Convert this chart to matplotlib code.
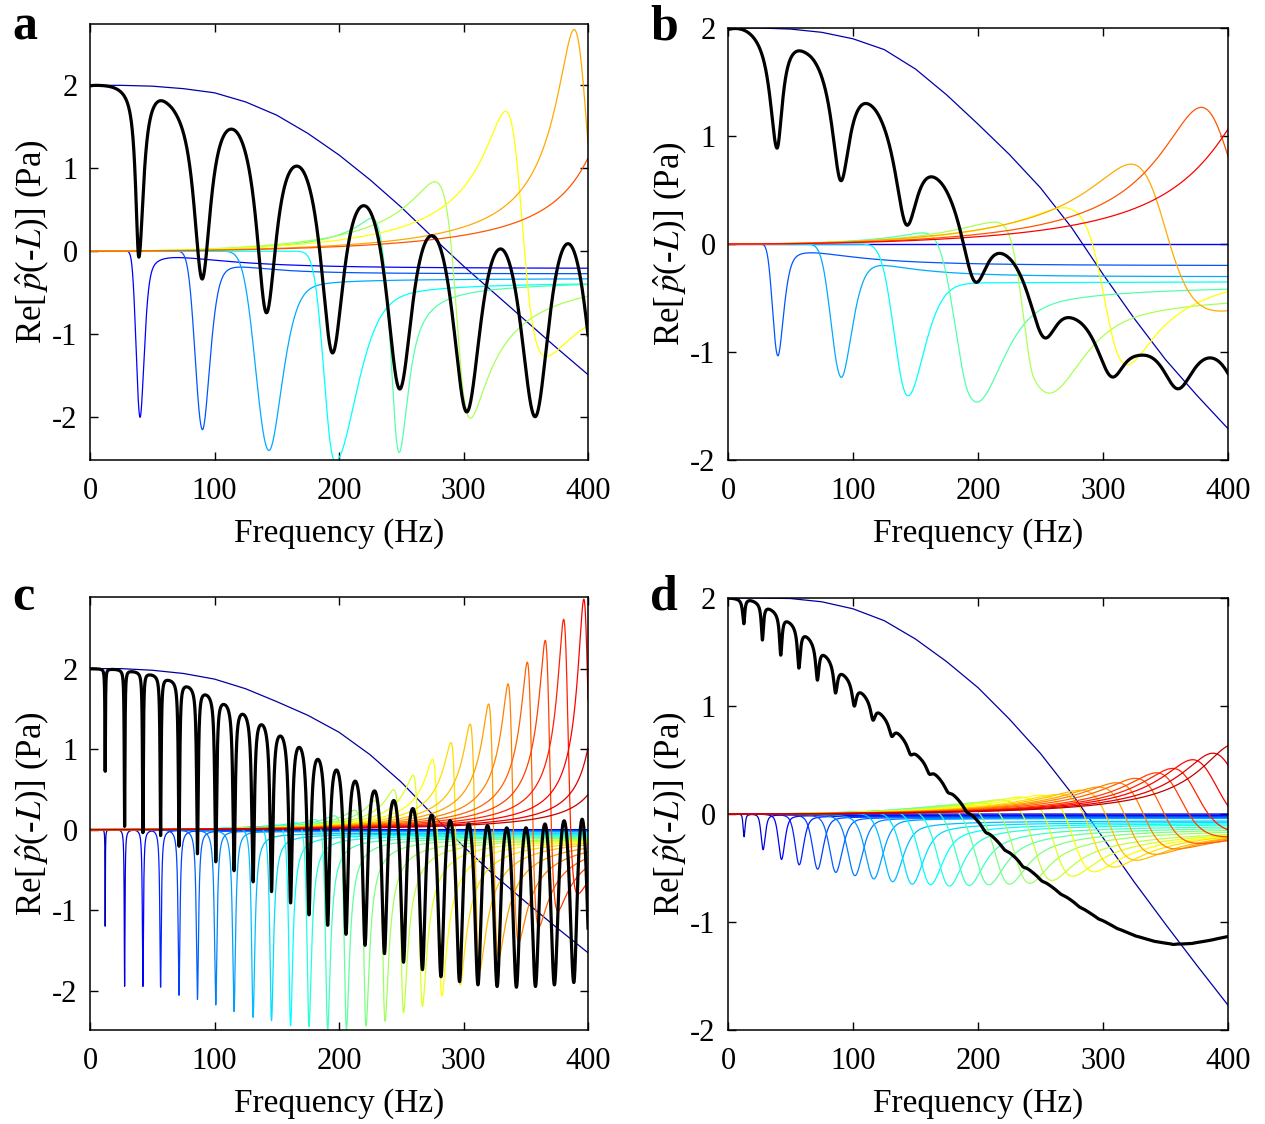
import numpy as np
import matplotlib
matplotlib.use("Agg")
import matplotlib.pyplot as plt

plt.rcParams['font.family'] = ['Liberation Serif', 'DejaVu Serif']
plt.rcParams['mathtext.fontset'] = 'stix'
plt.rcParams['axes.unicode_minus'] = False

FREQ = np.linspace(0.02, 400, 12000)
NAVY_F = [0, 25, 50, 75, 100, 125, 150, 175, 200, 225, 250, 275, 300, 325, 350, 375, 400]

# ---------------- panel a ----------------
A_NAVY = [2.0, 2.0, 1.99, 1.96, 1.91, 1.80, 1.64, 1.42, 1.16, 0.86, 0.53, 0.17, -0.18, -0.51, -0.84, -1.17, -1.49]
A_MODE_TF = [40, 90, 143, 196, 248, 305, 365, 428, 487]
A_MODE_PEAK = [0, 0, 0, 0, 0.27, 0.88, 1.75, 2.72, 3.0]
A_MODE_TROUGH = [-2.0, -2.15, -2.40, -2.52, -2.38, -1.95, -1.20, -0.60, -0.50]
A_MODE_QL = [5.2, 6.4, 5.6, 10, 14.5, 11, 11, 13, 12]
A_MODE_QR = [5.2, 6.4, 5.6, 5, 14.5, 11, 11, 13, 12]
A_MODE_TAIL = [-0.21, -0.27, -0.32, -0.36, -0.23, 0, 0, 0, 0]
A_MODE_SPREAD = [70, 40, 25, 25, 40, 40, 40, 40, 40]
A_BLACK_DIP_F = [-30, 39.2, 90.0, 141.6, 194.6, 248.6, 302.5, 357.5, 410.0]
A_BLACK_DIP_Y = [-0.06, -0.06, -0.33, -0.74, -1.23, -1.67, -1.95, -2.0, -2.0]
A_BLACK_SHARP = [12, 12, 3.5, 2.5, 1.8, 1.3, 1.0, 0.9, 0.9]
A_BLACK_SHARP_LEFT = [50, 50, 3.5, 2.5, 1.8, 1.3, 1.0, 0.9, 0.9]
A_BLACK_PEAK_F = [0, 20, 51.7, 60, 68, 110.5, 120, 169.0, 224.7, 280.3, 335.2, 389.9, 440]
A_BLACK_PEAK_Y = [2.0, 2.0, 1.92, 1.85, 1.65, 1.52, 1.42, 1.01, 0.51, 0.15, 0.01, 0.10, 0.15]

# ---------------- panel b ----------------
B_NAVY = [2.0, 2.0, 1.99, 1.96, 1.90, 1.80, 1.62, 1.38, 1.11, 0.83, 0.52, 0.15, -0.28, -0.69, -1.07, -1.40, -1.71]
B_MODE_TF = [39.5, 90, 143, 196, 251, 318, 388, 472, 538]
B_MODE_PEAK = [0, 0, 0, 0.02, 0.05, 0.36, 0.80, 1.32, 1.55]
B_MODE_TROUGH = [-1.03, -1.23, -1.40, -1.42, -1.30, -1.07, -0.57, -0.30, -0.30]
B_MODE_QL = [3.8, 4.5, 5.5, 6.2, 10.6, 6.6, 5.1, 5.3, 5.5]
B_MODE_QR = [3.8, 4.5, 4.5, 4.0, 4.0, 6.6, 5.1, 5.3, 5.5]
B_MODE_TAIL = [-0.2, -0.3, -0.34, -0.28, -0.30, 0.04, 0.04, 0, 0]
B_MODE_SPREAD = [60, 45, 30, 30, 30, 40, 40, 40, 40]
B_BLACK_DIP_F = [-25, 39.2, 90.2, 142.8, 197.6, 252.7, 307.0, 359.5, 413.0]
B_BLACK_DIP_Y = [0.9, 0.9, 0.59, 0.18, -0.35, -0.87, -1.24, -1.34, -1.45]
B_BLACK_SHARP = [9, 9, 3.2, 2.0, 1.3, 1.0, 0.9, 0.8, 0.8]
B_BLACK_PEAK_F = [0, 15, 53.5, 110.3, 164.0, 219.3, 275.0, 327.6, 381.2, 435]
B_BLACK_PEAK_Y = [2.0, 1.99, 1.85, 1.34, 0.65, -0.07, -0.68, -1.03, -1.05, -1.1]

# ---------------- panel c ----------------
C_NAVY = [2.0, 2.0, 1.98, 1.94, 1.87, 1.75, 1.59, 1.42, 1.21, 0.93, 0.59, 0.19, -0.21, -0.57, -0.90, -1.22, -1.53]
C_MODE_TF = [12.2, 27.8, 42.5, 56.7, 71.5, 86.3, 101.0, 115.7, 131.0, 145.8, 161.1, 175.9, 190.9, 206.0,
             221.7, 237.0, 251.8, 267.0, 282.6, 297.4, 313.0, 328.2, 344.3, 360.4, 375.7, 391.8, 409.8,
             427.7, 445.3]
C_MODE_PEAK = [0, 0, 0, 0, 0, 0, 0, 0, 0.02, 0.04, 0.06, 0.09, 0.13, 0.18, 0.25, 0.37, 0.51, 0.69,
               0.89, 1.10, 1.33, 1.58, 1.83, 2.10, 2.37, 2.63, 2.88, 3.1, 3.3]
C_MODE_TROUGH = [-1.21, -1.95, -1.95, -1.96, -2.06, -2.11, -2.18, -2.26, -2.33, -2.37, -2.43, -2.44, -2.47,
                 -2.47, -2.43, -2.37, -2.26, -2.18, -2.05, -1.91, -1.73, -1.58, -1.38, -1.19, -0.99, -0.78,
                 -0.6, -0.45, -0.35]
C_MODE_TAIL = [0, -0.005, -0.01, -0.012, -0.015, -0.02, -0.022, -0.025, -0.03, -0.035, -0.04, -0.045, -0.05,
               -0.05, -0.05, -0.05, -0.04, -0.03, -0.02, -0.01, 0, 0, 0, 0, 0, 0, 0, 0, 0]
C_BLACK_DIP_F = [-5, 12.2, 27.8, 42.5, 56.7, 71.5, 86.3, 101.0, 115.7, 131.0, 145.8, 161.1, 175.9, 190.9,
                 205.6, 220.9, 236.5, 251.8, 267.0, 281.9, 296.8, 311.6, 327.0, 342.5, 357.8, 373.0, 388.6, 402.0]
C_BLACK_DIP_Y = [0.76, 0.76, 0.0, -0.04, -0.07, -0.21, -0.30, -0.40, -0.51, -0.65, -0.77, -0.91, -1.06, -1.19,
                 -1.30, -1.44, -1.54, -1.65, -1.74, -1.83, -1.89, -1.93, -1.95, -1.96, -1.95, -1.93, -1.90, -1.88]
C_BLACK_SHARP = [400, 400, 200, 120, 80, 50, 35, 25, 18, 14, 11, 8.5, 7, 5.5, 4.5, 3.7, 3.1, 2.6, 2.2, 1.9,
                 1.7, 1.5, 1.35, 1.2, 1.1, 1.0, 0.95, 0.9]
C_BLACK_PEAK_F = [0, 20.0, 35.1, 49.6, 64.1, 78.9, 93.6, 108.4, 123.3, 138.4, 153.4, 168.5, 183.4, 198.2,
                  213.2, 228.7, 244.1, 259.4, 274.4, 289.3, 304.2, 319.3, 334.7, 350.1, 365.4, 380.8, 395.3, 415]
C_BLACK_PEAK_Y = [2.0, 1.99, 1.96, 1.92, 1.85, 1.77, 1.67, 1.55, 1.43, 1.30, 1.16, 1.02, 0.87, 0.74, 0.60,
                  0.48, 0.36, 0.26, 0.18, 0.11, 0.07, 0.05, 0.02, 0.02, 0.07, 0.11, 0.13, 0.13]

# ---------------- panel d ----------------
D_NAVY = [2.0, 2.0, 1.995, 1.965, 1.90, 1.79, 1.62, 1.41, 1.17, 0.88, 0.56, 0.19, -0.22, -0.63, -1.02, -1.40, -1.77]
D_MODE_TF = [12.8, 28.0, 42.7, 56.8, 71.5, 86.0, 101.3, 116.3, 131.2, 146.7, 161.3, 176.2, 191.9, 207.5,
             224.0, 240.0, 257.5, 274.1, 291.0, 307.0, 324.5, 340.0, 356.0, 374.0, 396.0, 414.0, 439.0,
             464.5, 494.0]
D_MODE_PEAK = [0, 0, 0, 0, 0, 0, 0, 0, 0.005, 0.01, 0.02, 0.03, 0.05, 0.07, 0.09, 0.11, 0.14, 0.17, 0.19,
               0.20, 0.24, 0.27, 0.31, 0.35, 0.40, 0.44, 0.52, 0.58, 0.66]
D_MODE_TROUGH = [-0.21, -0.33, -0.42, -0.47, -0.51, -0.54, -0.57, -0.60, -0.62, -0.64, -0.64, -0.65, -0.64,
                 -0.63, -0.62, -0.61, -0.58, -0.54, -0.50, -0.46, -0.40, -0.35, -0.30, -0.25, -0.19, -0.16,
                 -0.13, -0.11, -0.09]
D_MODE_TAIL = [0, -0.01, -0.015, -0.02, -0.025, -0.03, -0.035, -0.04, -0.045, -0.05, -0.05, -0.05, -0.05,
               -0.05, -0.05, -0.05, -0.05, -0.04, -0.03, -0.02, -0.01, 0, 0, 0, 0, 0, 0, 0, 0]
D_BLACK_DIP_F = [-8, 12.7, 27.5, 42.2, 56.7, 71.5, 86.0, 101.0, 116.0, 131.0, 146.0, 161.0, 176.0, 191.0,
                 206.0, 221.0, 236.0, 251.0, 266.0, 281.0, 296.0, 311.0, 326.0, 341.0, 356.0, 371.0, 386.0, 401.0]
D_BLACK_DIP_Y = [1.77, 1.77, 1.61, 1.47, 1.35, 1.24, 1.12, 1.00, 0.87, 0.72, 0.55, 0.37, 0.20, 0.02, -0.17,
                 -0.33, -0.49, -0.62, -0.74, -0.86, -0.97, -1.06, -1.13, -1.18, -1.21, -1.20, -1.17, -1.13]
D_BLACK_SHARP = [30, 30, 20, 14, 10, 8, 6, 5, 4, 3.5, 3, 2.5, 2, 2, 2, 2, 2, 2, 2, 2, 2, 2, 2, 2, 2, 2, 2, 2]
D_BLACK_PEAK_F = [0, 18, 33, 48, 63, 77, 92, 107, 121, 136, 150, 165, 183.5, 198.5, 213.5, 228.5, 243.5,
                  258.5, 273.5, 288.5, 303.5, 318.5, 333.5, 348.5, 363.5, 378.5, 393.5, 410]
D_BLACK_PEAK_Y = [2.0, 1.98, 1.90, 1.78, 1.64, 1.47, 1.29, 1.12, 0.94, 0.75, 0.56, 0.38, 0.14, -0.05, -0.23,
                  -0.39, -0.54, -0.67, -0.79, -0.91, -1.01, -1.095, -1.155, -1.195, -1.205, -1.185, -1.15, -1.1]


def matlab_jet(m):
    n = int(np.ceil(m / 4))
    u = np.concatenate([np.arange(1, n + 1) / n, np.ones(n - 1), np.arange(n, 0, -1) / n])
    g = int(np.ceil(n / 2)) - (1 if m % 4 == 1 else 0) + np.arange(1, len(u) + 1)
    cmap = np.zeros((m, 3))
    for col, idx in ((1, g), (0, g + n), (2, g - n)):
        for i, val in zip(idx, u):
            if 1 <= i <= m:
                cmap[i - 1, col] = val
    return cmap


def mode_curve(f, f_trough, peak, trough, ql, qr, tail, spread, gauss_l, gauss_r):
    # resonance line shape set by its trough position, peak and trough values
    k = peak - trough
    cos_psi = -(peak + trough) / k
    sin_psi = np.sqrt(max(0.0, 1 - cos_psi ** 2))
    psi = np.arctan2(sin_psi, cos_psi)
    fn = f_trough / (1 + np.tan(psi / 2) / (2 * qr))
    r = f / fn
    xa = np.where(r < 1, ql, qr) * (1 / r - r)
    xd = qr * (1 / r - r)
    lor = 1 / (1 + xa ** 2)
    gau = np.exp(-np.log(2) * xa ** 2)
    wgt = max(cos_psi, 0) ** 2
    wl, wr = gauss_l * wgt, gauss_r * wgt
    absorb = np.where(xa > 0, (1 - wl) * lor + wl * gau, (1 - wr) * lor + wr * gau)
    y = k * r * (sin_psi * xd / (1 + xd ** 2) - cos_psi * absorb)
    u = np.clip(f - fn, 0, None) / spread
    return y + tail * u ** 2 / (1 + u ** 2)


def smooth(y, f, sigma):
    step = f[1] - f[0]
    half = int(4 * sigma / step)
    kern = np.exp(-0.5 * (np.arange(-half, half + 1) * step / sigma) ** 2)
    kern /= kern.sum()
    padded = np.concatenate([np.full(half, y[0]), y, np.full(half, y[-1])])
    return np.convolve(padded, kern, mode='valid')


def black_curve(f, dip_f, dip_y, sharp, peak_f, peak_y, sigma, sharp_left=None):
    if sharp_left is None:
        sharp_left = sharp
    sharp = np.asarray(sharp, dtype=float)
    sharp_left = np.asarray(sharp_left, dtype=float)
    theta = np.interp(f, dip_f, np.arange(len(dip_f)))
    k = np.clip(np.floor(theta).astype(int), 0, len(sharp) - 2)
    frac = theta - k
    big_f = np.where(frac < 0.5, sharp[k], sharp_left[k + 1])
    s = 1 / (1 + big_f * np.sin(np.pi * theta) ** 2)
    m = 1 / (1 + big_f)
    s = (s - m) / (1 - m)
    upper = smooth(np.interp(f, peak_f, peak_y), f, sigma)
    lower = smooth(np.interp(f, dip_f, dip_y), f, sigma)
    return upper - (upper - lower) * s


def draw_panel(ax, navy, modes, black, n_colors, flat_line, ylim):
    colors = matlab_jet(n_colors)
    ax.plot(NAVY_F, navy, color=colors[0], lw=0.9)
    ci = 1
    if flat_line:
        ax.plot([0, 400], [0, 0], color=colors[1], lw=1.0)
        ci = 2
    for y in modes:
        ax.plot(FREQ, y, color=colors[ci], lw=0.9)
        ci += 1
    ax.plot(FREQ, black, color='black', lw=2.3)
    ax.set_xlim(0, 400)
    ax.set_ylim(*ylim)
    ax.set_xticks([0, 100, 200, 300, 400])
    ax.set_yticks([-2, -1, 0, 1, 2])
    ax.tick_params(direction='in', length=6, width=1.0, top=True, right=True, labelsize=22)
    ax.tick_params(axis='x', pad=12)
    ax.tick_params(axis='y', pad=9)
    for sp in ax.spines.values():
        sp.set_linewidth(1.1)
    ax.set_xlabel('Frequency (Hz)', fontsize=24, labelpad=9)
    ax.set_ylabel(r'Re[$\,\hat{p}$(-$L$)] (Pa)', fontsize=25, labelpad=1)


def build_modes(tf, pk, tr, ql, qr, tail, spread, gl, gr):
    out = []
    for i in range(len(tf)):
        qli = ql[i] if np.ndim(ql) else ql
        qri = qr[i] if np.ndim(qr) else qr
        spi = spread[i] if np.ndim(spread) else spread
        out.append(mode_curve(FREQ, tf[i], pk[i], tr[i], qli, qri, tail[i], spi, gl, gr))
    return out


fig = plt.figure(figsize=(12.65, 11.24), dpi=100)
W, H = 1265, 1124


def add_axes(left, top, right, bottom):
    return fig.add_axes([left / W, 1 - bottom / H, (right - left) / W, (bottom - top) / H])


ax_a = add_axes(90, 24, 588, 460)
ax_b = add_axes(728, 28, 1228, 460)
ax_c = add_axes(90, 597, 588, 1030)
ax_d = add_axes(728, 598, 1228, 1030)

modes_a = build_modes(A_MODE_TF, A_MODE_PEAK, A_MODE_TROUGH, A_MODE_QL, A_MODE_QR, A_MODE_TAIL,
                      A_MODE_SPREAD, 1.0, 0.5)
black_a = black_curve(FREQ, A_BLACK_DIP_F, A_BLACK_DIP_Y, A_BLACK_SHARP, A_BLACK_PEAK_F, A_BLACK_PEAK_Y, 6,
                      A_BLACK_SHARP_LEFT)
draw_panel(ax_a, A_NAVY, modes_a, black_a, 10, False, (-2.52, 2.74))

modes_b = build_modes(B_MODE_TF, B_MODE_PEAK, B_MODE_TROUGH, B_MODE_QL, B_MODE_QR, B_MODE_TAIL,
                      B_MODE_SPREAD, 1.0, 0.5)
black_b = black_curve(FREQ, B_BLACK_DIP_F, B_BLACK_DIP_Y, B_BLACK_SHARP, B_BLACK_PEAK_F, B_BLACK_PEAK_Y, 5)
draw_panel(ax_b, B_NAVY, modes_b, black_b, 11, True, (-2, 2))

modes_c = build_modes(C_MODE_TF, C_MODE_PEAK, C_MODE_TROUGH, 40, 40, C_MODE_TAIL, 15, 0.0, 0.0)
black_c = black_curve(FREQ, C_BLACK_DIP_F, C_BLACK_DIP_Y, C_BLACK_SHARP, C_BLACK_PEAK_F, C_BLACK_PEAK_Y, 2)
draw_panel(ax_c, C_NAVY, modes_c, black_c, 30, False, (-2.49, 2.89))

modes_d = build_modes(D_MODE_TF, D_MODE_PEAK, D_MODE_TROUGH, 7, 7, D_MODE_TAIL, 20, 0.5, 0.5)
black_d = black_curve(FREQ, D_BLACK_DIP_F, D_BLACK_DIP_Y, D_BLACK_SHARP, D_BLACK_PEAK_F, D_BLACK_PEAK_Y, 2)
draw_panel(ax_d, D_NAVY, modes_d, black_d, 30, False, (-2, 2))

for letter, x, y in (('a', 12, 40), ('b', 650, 40), ('c', 12, 610), ('d', 650, 610)):
    fig.text(x / W, 1 - y / H, letter, fontsize=36, fontweight='bold', ha='left', va='baseline')

fig.savefig('out.png', dpi=100)
